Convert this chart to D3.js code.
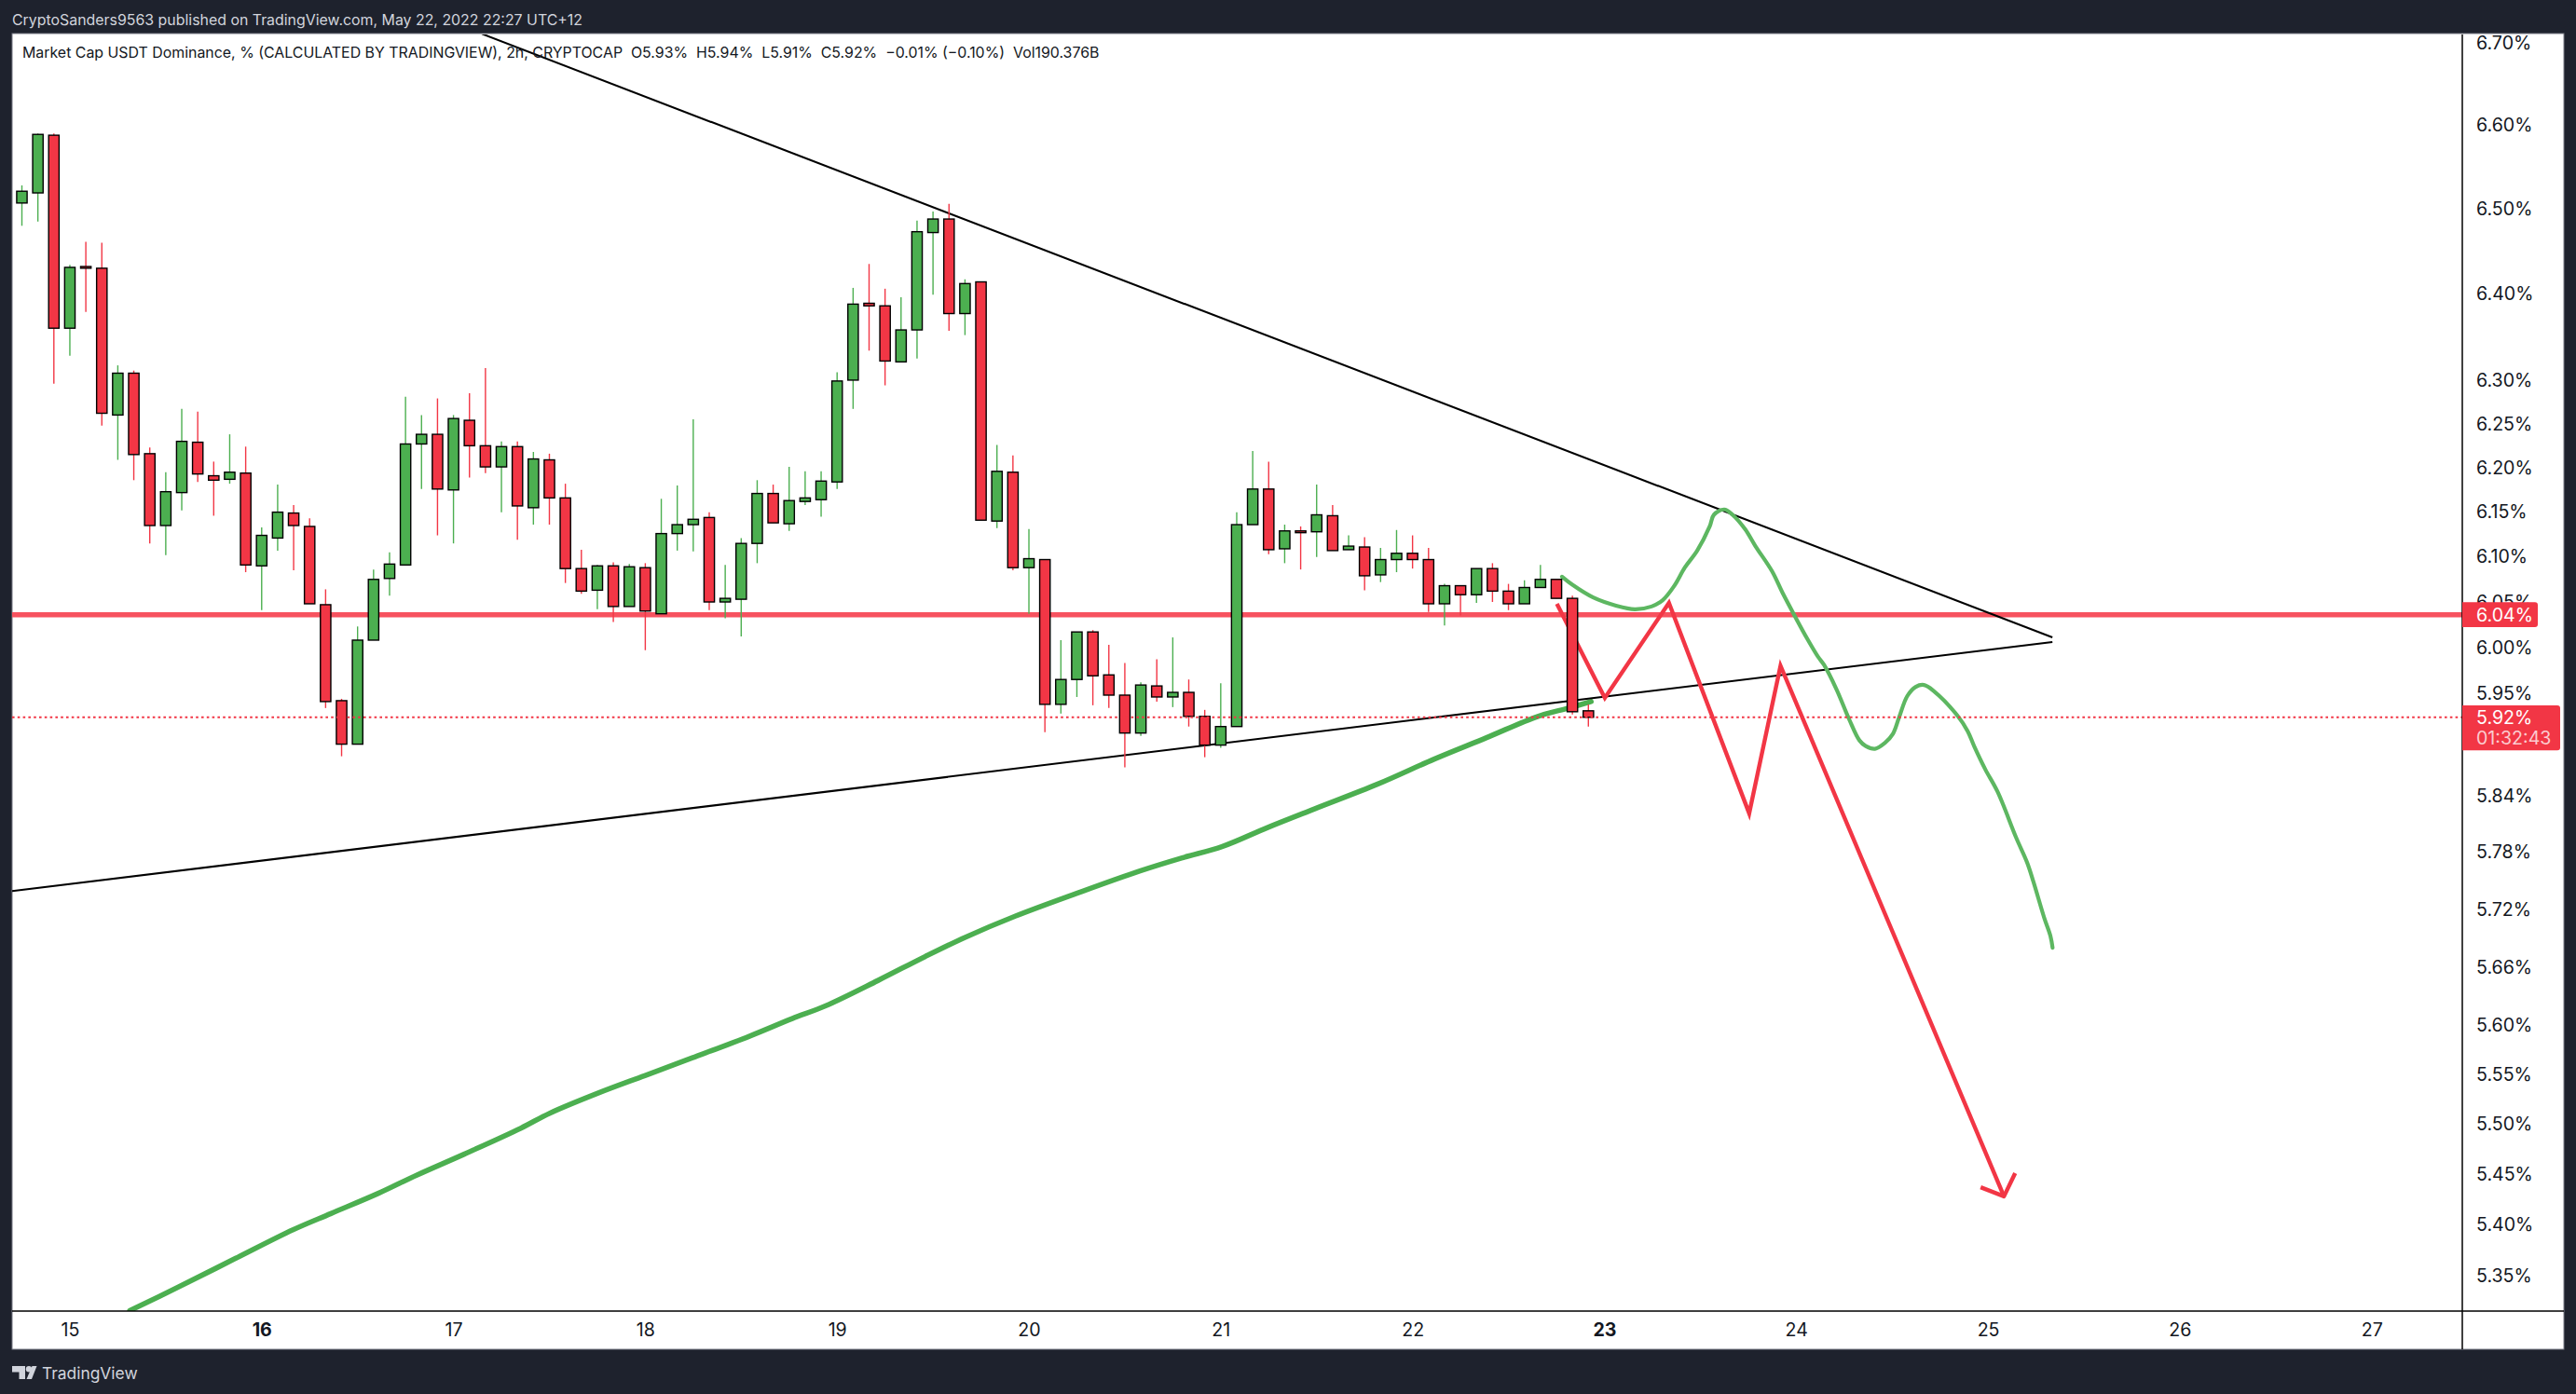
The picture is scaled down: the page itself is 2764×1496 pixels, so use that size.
<!DOCTYPE html>
<html>
<head>
<meta charset="utf-8">
<style>
html,body{margin:0;padding:0;background:#1e222d;overflow:hidden}
svg{display:block}
text{font-family:Inter,"Liberation Sans",sans-serif;white-space:pre}
</style>
<script src="https://cdn.jsdelivr.net/npm/d3@7/dist/d3.min.js"></script>
</head>
<body>
<svg id="c" width="2764" height="1496"></svg>
<script>
// Candle values, % dominance (2h candles, index 0..98)
const opens = [6.507,6.519,6.588,6.360,6.432,6.430,6.260,6.308,6.216,6.135,6.172,6.229,6.191,6.187,6.194,6.090,6.121,6.149,6.134,6.047,5.942,5.895,6.008,6.076,6.091,6.227,6.238,6.175,6.254,6.225,6.201,6.224,6.155,6.209,6.166,6.087,6.063,6.090,6.045,6.088,6.037,6.126,6.136,6.144,6.050,6.053,6.115,6.171,6.137,6.162,6.164,6.184,6.300,6.389,6.386,6.321,6.358,6.472,6.488,6.377,6.414,6.140,6.195,6.088,6.097,5.938,5.965,6.017,5.970,5.948,5.907,5.958,5.946,5.951,5.925,5.894,5.914,6.136,6.176,6.109,6.129,6.128,6.146,6.108,6.111,6.080,6.097,6.104,6.097,6.048,6.068,6.058,6.087,6.062,6.048,6.066,6.075,6.054,5.931];
const highs = [6.528,6.590,6.590,6.434,6.461,6.460,6.317,6.311,6.223,6.195,6.267,6.264,6.207,6.238,6.224,6.133,6.181,6.158,6.143,6.064,5.944,6.023,6.086,6.105,6.281,6.260,6.279,6.260,6.285,6.314,6.230,6.230,6.218,6.216,6.182,6.108,6.091,6.094,6.092,6.093,6.165,6.180,6.255,6.150,6.091,6.121,6.186,6.181,6.201,6.196,6.196,6.309,6.407,6.435,6.406,6.396,6.486,6.497,6.506,6.417,6.414,6.226,6.214,6.131,6.097,6.008,6.017,6.019,6.003,5.983,5.962,5.987,6.011,5.965,5.932,5.961,6.150,6.219,6.207,6.136,6.134,6.181,6.158,6.124,6.122,6.110,6.130,6.124,6.110,6.070,6.068,6.087,6.093,6.070,6.074,6.091,6.075,6.057,5.938];
const lows = [6.480,6.485,6.296,6.328,6.379,6.248,6.209,6.186,6.115,6.102,6.152,6.184,6.146,6.182,6.083,6.041,6.107,6.085,6.048,5.934,5.882,5.895,6.008,6.057,6.091,6.176,6.124,6.115,6.189,6.194,6.150,6.119,6.136,6.136,6.071,6.059,6.042,6.028,6.045,5.997,6.037,6.107,6.106,6.041,6.032,6.012,6.093,6.138,6.129,6.158,6.145,6.176,6.267,6.334,6.294,6.321,6.325,6.399,6.357,6.352,6.141,6.132,6.085,6.037,5.908,5.928,5.946,5.937,5.934,5.870,5.904,5.941,5.935,5.914,5.881,5.891,5.914,6.136,6.103,6.093,6.086,6.100,6.107,6.108,6.063,6.072,6.083,6.087,6.039,6.024,6.035,6.049,6.050,6.041,6.048,6.066,6.054,5.927,5.914];
const closes = [6.521,6.589,6.360,6.431,6.430,6.262,6.308,6.215,6.135,6.173,6.230,6.193,6.186,6.195,6.091,6.124,6.150,6.135,6.048,5.941,5.895,6.008,6.075,6.092,6.227,6.238,6.176,6.256,6.225,6.201,6.224,6.157,6.210,6.166,6.087,6.062,6.090,6.045,6.089,6.040,6.126,6.136,6.142,6.050,6.054,6.115,6.171,6.138,6.163,6.166,6.185,6.299,6.388,6.386,6.322,6.358,6.473,6.488,6.377,6.412,6.141,6.196,6.088,6.098,5.938,5.965,6.017,5.969,5.948,5.907,5.959,5.946,5.951,5.925,5.894,5.914,6.136,6.176,6.108,6.129,6.127,6.147,6.107,6.112,6.079,6.097,6.104,6.097,6.048,6.068,6.058,6.087,6.062,6.048,6.066,6.075,6.054,5.930,5.924];

// Overlay drawings: x positions in candle-index units, y in price
const maIndex = [6.75,9.81,13.38,16.96,19.33,22.30,24.69,27.67,31.22,33.02,36.0,38.97,41.95,45.51,48.19,50.27,53.54,56.52,59.04,62.17,66.04,69.91,72.59,75.11,77.93,80.90,84.79,88.36,91.63,94.84,96.76,98.17];
const maValue = [5.316,5.339,5.367,5.395,5.411,5.431,5.449,5.470,5.496,5.511,5.531,5.549,5.567,5.589,5.607,5.620,5.646,5.671,5.691,5.713,5.737,5.760,5.774,5.786,5.806,5.826,5.852,5.879,5.902,5.925,5.934,5.941];
const curveIndex = [96.35,97.0,98.30,99.73,100.90,101.95,102.65,103.38,104.03,104.81,105.59,105.85,106.50,107.02,107.80,108.45,109.49,110.15,110.93,111.71,112.36,112.74,113.53,114.31,114.96,115.35,115.93,116.53,117.05,117.44,117.95,118.48,119.0,119.64,121.08,121.73,122.13,122.83,123.60,124.77,125.45,125.84,126.52,126.91,127.04];
const curveValue = [6.078,6.069,6.055,6.046,6.042,6.045,6.052,6.068,6.088,6.107,6.134,6.147,6.153,6.147,6.131,6.112,6.084,6.060,6.034,6.009,5.990,5.981,5.954,5.922,5.899,5.893,5.890,5.896,5.906,5.924,5.947,5.957,5.959,5.952,5.926,5.909,5.893,5.868,5.844,5.795,5.769,5.749,5.711,5.692,5.680];
const zigIndex = [96.03,99.03,103.04,108.06,110.02,124.0];
const zigValue = [6.048,5.945,6.049,5.821,5.980,5.428];
const barbIndex = [122.54,124.0,124.7];
const barbValue = [5.437,5.428,5.451];
const upperIndex = [28.78,127.03];
const upperValue = [6.711,6.011];
const lowerIndex = [-0.61,127.03];
const lowerValue = [5.739,6.006];
const levelValue = 6.036;
const lastValue = 5.924;

// Axis labels
const priceTicks = [6.70,6.60,6.50,6.40,6.30,6.25,6.20,6.15,6.10,6.05,6.00,5.95,5.84,5.78,5.72,5.66,5.60,5.55,5.50,5.45,5.40,5.35];
const dayLabels = [15,16,17,18,19,20,21,22,23,24,25,26,27];
const dayIndex = [3,15,27,39,51,63,75,87,99,111,123,135,147];
const boldDays = [16,23];
const levelLabel = "6.04%";
const lastLabel = "5.92%";
const countdown = "01:32:43";
const headerText = "CryptoSanders9563 published on TradingView.com, May 22, 2022 22:27 UTC+12";
const titleText = "Market Cap USDT Dominance, % (CALCULATED BY TRADINGVIEW), 2h, CRYPTOCAP  O5.93%  H5.94%  L5.91%  C5.92%  \u22120.01% (\u22120.10%)  Vol190.376B";

// Colours and layout
const BG="#1e222d", GREEN="#4caf50", RED="#f23645", LEVEL="#f7525f", CURVE="#5db761", INK="#131722";
const paneL=13, paneR=2642, paneT=37, paneB=1407, frameR=2751, frameB=1448;

const svg=d3.select("#c");
const x=d3.scaleLinear().domain([0,98]).range([23.5,1704.3]);
const y=d3.scaleLog().domain([5.35,6.70]).range([1369,46]);

svg.append("rect").attr("width",2764).attr("height",1496).attr("fill",BG);
svg.append("rect").attr("x",paneL).attr("y",36).attr("width",frameR-paneL).attr("height",frameB-36)
  .attr("fill","#fff").attr("stroke","#787b86").attr("stroke-width",1);

svg.append("defs").append("clipPath").attr("id","pane").append("rect")
  .attr("x",paneL).attr("y",paneT).attr("width",paneR-paneL).attr("height",paneB-paneT);
const pane=svg.append("g").attr("clip-path","url(#pane)");

const pts=(xs,ys)=>xs.map((v,i)=>[v,ys[i]]);
const line=d3.line().x(d=>x(d[0])).y(d=>y(d[1]));
const smooth=d3.line().x(d=>x(d[0])).y(d=>y(d[1])).curve(d3.curveCatmullRom.alpha(0.5));

// horizontal level and drawings lie beneath the candles
pane.append("line").attr("x1",paneL).attr("x2",paneR).attr("y1",y(levelValue)).attr("y2",y(levelValue))
  .attr("stroke",LEVEL).attr("stroke-width",5.5);
pane.append("path").attr("d",smooth(pts(maIndex,maValue))).attr("fill","none").attr("stroke",GREEN).attr("stroke-width",5.6).attr("stroke-linecap","round");
pane.append("path").attr("d",line(pts(upperIndex,upperValue))).attr("fill","none").attr("stroke","#000").attr("stroke-width",2.1);
pane.append("path").attr("d",line(pts(lowerIndex,lowerValue))).attr("fill","none").attr("stroke","#000").attr("stroke-width",2.1);
pane.append("path").attr("d",smooth(pts(curveIndex,curveValue))).attr("fill","none").attr("stroke",CURVE).attr("stroke-width",4.2).attr("stroke-linecap","round");
pane.append("path").attr("d",line(pts(zigIndex,zigValue))).attr("fill","none").attr("stroke",RED).attr("stroke-width",4.4).attr("stroke-linejoin","miter");
pane.append("path").attr("d",line(pts(barbIndex,barbValue))).attr("fill","none").attr("stroke",RED).attr("stroke-width",4.4).attr("stroke-linejoin","round");

// candles
const candles=opens.map((o,i)=>({i,o,h:highs[i],l:lows[i],c:closes[i]}));
const colr=d=>d.c>=d.o?GREEN:RED;
const cg=pane.append("g");
cg.selectAll("line.w").data(candles).join("line").attr("class","w")
  .attr("x1",d=>x(d.i)).attr("x2",d=>x(d.i)).attr("y1",d=>y(d.h)).attr("y2",d=>y(d.l))
  .attr("stroke",colr).attr("stroke-width",1.4);
cg.selectAll("rect.b").data(candles).join("rect").attr("class","b")
  .attr("x",d=>x(d.i)-5.6).attr("width",11.2)
  .attr("y",d=>y(Math.max(d.o,d.c))).attr("height",d=>Math.max(0.5,y(Math.min(d.o,d.c))-y(Math.max(d.o,d.c))))
  .attr("fill",colr).attr("stroke","#000").attr("stroke-width",1.4);

// last-price dotted line runs over the candles
pane.append("line").attr("x1",paneL).attr("x2",paneR).attr("y1",y(lastValue)).attr("y2",y(lastValue))
  .attr("stroke",RED).attr("stroke-width",2.2).attr("stroke-dasharray","2.6 3.2");

// axes
const yAxis=d3.axisRight(y).tickValues(priceTicks).tickFormat(d=>d.toFixed(2)+"%").tickSize(0).tickPadding(15);
const ya=svg.append("g").attr("transform",`translate(${paneR},0)`).call(yAxis);
ya.select(".domain").remove();
ya.selectAll("text").attr("fill",INK).attr("font-size",19.6).attr("font-family","Inter");

const xAxis=d3.axisBottom(x).tickValues(dayIndex).tickFormat((d,i)=>dayLabels[i]).tickSize(0).tickPadding(13);
const xa=svg.append("g").attr("transform",`translate(0,${paneB})`).call(xAxis);
xa.select(".domain").remove();
xa.selectAll("text").attr("fill",INK).attr("font-size",19.6).attr("font-family","Inter")
  .attr("font-weight",(d,i)=>boldDays.includes(dayLabels[i])?700:400);

svg.append("line").attr("x1",paneL).attr("x2",frameR).attr("y1",paneB).attr("y2",paneB).attr("stroke","#000").attr("stroke-width",1.5);
svg.append("line").attr("x1",paneR).attr("x2",paneR).attr("y1",paneT).attr("y2",frameB).attr("stroke","#000").attr("stroke-width",1.5);

// price tags
svg.append("path").attr("d",roundedTag(paneR,y(levelValue)-13.3,81,26.6)).attr("fill",RED);
svg.append("text").attr("x",paneR+15).attr("y",y(levelValue)).attr("dy","0.36em").attr("fill","#fff").attr("font-size",19.6).text(levelLabel);
svg.append("path").attr("d",roundedTag(paneR,757,105,48.3)).attr("fill",RED);
svg.append("text").attr("x",paneR+15).attr("y",769.5).attr("dy","0.36em").attr("fill","#fff").attr("font-size",19.6).text(lastLabel);
svg.append("text").attr("x",paneR+15).attr("y",792).attr("dy","0.36em").attr("fill","#ffffff").attr("fill-opacity",0.75).attr("font-size",19.6).text(countdown);

function roundedTag(px,py,w,h){
  const r=3,p=d3.path();
  p.moveTo(px,py);p.lineTo(px+w-r,py);p.quadraticCurveTo(px+w,py,px+w,py+r);
  p.lineTo(px+w,py+h-r);p.quadraticCurveTo(px+w,py+h,px+w-r,py+h);p.lineTo(px,py+h);p.closePath();
  return p.toString();
}

// header, legend, footer
svg.append("text").attr("x",13).attr("y",26.5).attr("fill","#d1d4dc").attr("font-size",15.9).text(headerText);
svg.append("text").attr("x",24).attr("y",62).attr("fill",INK).attr("font-size",15.9).text(titleText);

const logo=svg.append("g").attr("fill","#d1d4dc");
logo.append("path").attr("d","M13 1466h14v14h-6.500v-7.500h-7.500z");
logo.append("circle").attr("cx",31).attr("cy",1469.200).attr("r",3.200);
logo.append("path").attr("d","M34.500 1466h5l-5.500 14h-5.500z");
svg.append("text").attr("x",45).attr("y",1480).attr("fill","#d1d4dc").attr("font-size",17.4).text("TradingView");
</script>
</body>
</html>
